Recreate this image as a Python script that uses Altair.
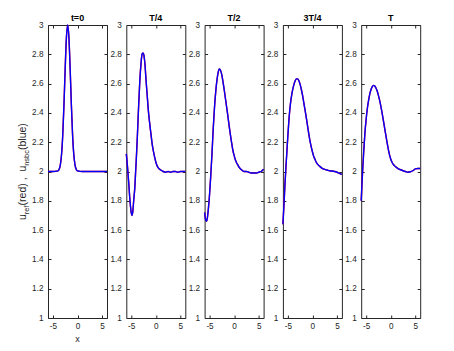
import altair as alt
import pandas as pd

# ---- data ----
titles = ["t=0", "T/4", "T/2", "3T/4", "T"]

x_t0 = [-6, -5, -4.5, -4, -3.75, -3.5, -3.25, -3, -2.75, -2.5, -2.25, -2, -1.75, -1.5,
        -1.25, -1, -0.75, -0.5, -0.25, 0, 0.5, 1, 2, 3, 4, 5, 6]
u_t0 = [2.0, 2.0, 2.001, 2.004, 2.014, 2.044, 2.114, 2.249, 2.458, 2.707, 2.917, 3.0, 2.917,
        2.707, 2.458, 2.249, 2.114, 2.044, 2.014, 2.004, 2.001, 2.0, 2.0, 2.0, 2.0, 2.0, 2.0]

x_t1 = [-6, -5.75, -5.5, -5.25, -5.0, -4.85, -4.7, -4.5, -4.25, -4.1, -4.0, -3.75, -3.5, -3.25,
        -3.0, -2.8, -2.6, -2.4, -2.2, -2.0, -1.75, -1.5, -1.25, -1.0, -0.75, -0.5, -0.25, 0,
        0.25, 0.5, 1.0, 1.5, 2.0, 2.5, 3.0, 3.5, 4.0, 4.5, 5.0, 5.5, 6.0]
u_t1 = [2.12, 2.03, 1.92, 1.80, 1.72, 1.70, 1.72, 1.80, 1.90, 2.0, 2.06, 2.24, 2.44, 2.62,
        2.74, 2.80, 2.81, 2.79, 2.73, 2.63, 2.52, 2.41, 2.33, 2.26, 2.19, 2.14, 2.10, 2.065,
        2.04, 2.025, 2.01, 2.0, 1.995, 2.0, 1.995, 2.0, 2.0, 1.995, 2.0, 2.0, 2.0]

x_t2 = [-6, -5.85, -5.65, -5.45, -5.25, -5.0, -4.75, -4.5, -4.25, -4.0, -3.75, -3.5, -3.25,
        -3.0, -2.75, -2.5, -2.25, -2.0, -1.75, -1.5, -1.25, -1.0, -0.75, -0.5, -0.25, 0,
        0.25, 0.5, 0.75, 1.0, 1.5, 2.0, 2.5, 3.0, 3.5, 4.0, 4.5, 5.0, 5.5, 6.0]
u_t2 = [1.72, 1.68, 1.66, 1.68, 1.74, 1.84, 1.97, 2.12, 2.29, 2.43, 2.54, 2.62, 2.675,
        2.70, 2.69, 2.66, 2.61, 2.555, 2.495, 2.435, 2.375, 2.31, 2.25, 2.195, 2.145, 2.11,
        2.08, 2.06, 2.045, 2.03, 2.012, 2.0, 2.0, 1.995, 1.99, 1.99, 1.99, 1.995, 2.0, 2.015]

x_t3 = [-6, -5.8, -5.6, -5.4, -5.2, -5.0, -4.8, -4.6, -4.4, -4.2, -4.0, -3.75, -3.5, -3.25,
        -3.0, -2.75, -2.5, -2.25, -2.0, -1.75, -1.5, -1.25, -1.0, -0.75, -0.5, -0.25, 0,
        0.25, 0.5, 0.75, 1.0, 1.5, 2.0, 2.5, 3.0, 3.5, 4.0, 4.5, 5.0, 5.5, 6.0]
u_t3 = [1.64, 1.76, 1.90, 2.02, 2.13, 2.24, 2.34, 2.42, 2.48, 2.525, 2.56, 2.595, 2.62, 2.632,
        2.632, 2.62, 2.595, 2.56, 2.52, 2.47, 2.42, 2.37, 2.315, 2.26, 2.21, 2.17, 2.135,
        2.105, 2.085, 2.065, 2.052, 2.035, 2.022, 2.015, 2.01, 2.005, 2.003, 2.0, 1.995, 1.987, 1.98]

x_t4 = [-6, -5.85, -5.7, -5.5, -5.25, -5.0, -4.75, -4.5, -4.25, -4.0, -3.75, -3.5, -3.25,
        -3.0, -2.75, -2.5, -2.25, -2.0, -1.75, -1.5, -1.25, -1.0, -0.75, -0.5, -0.25, 0,
        0.25, 0.5, 0.75, 1.0, 1.5, 2.0, 2.5, 3.0, 3.5, 4.0, 4.5, 5.0, 5.5, 6.0]
u_t4 = [1.80, 1.91, 2.01, 2.13, 2.26, 2.355, 2.43, 2.485, 2.53, 2.56, 2.58, 2.588, 2.583,
        2.57, 2.55, 2.52, 2.485, 2.445, 2.40, 2.35, 2.30, 2.25, 2.20, 2.155, 2.115, 2.085,
        2.065, 2.05, 2.04, 2.032, 2.02, 2.012, 2.005, 2.0, 1.995, 1.998, 2.005, 2.018, 2.02, 2.02]

xs = [x_t0, x_t1, x_t2, x_t3, x_t4]
u_ref = [u_t0, u_t1, u_t2, u_t3, u_t4]
u_nsbc = [u_t0, u_t1, u_t2, u_t3, u_t4]   # coincides with the reference in the picture

y_ticks = [1, 1.2, 1.4, 1.6, 1.8, 2, 2.2, 2.4, 2.6, 2.8, 3]
x_ticks = [-5, 0, 5]

# ---- style ----
W, H = 59, 293
TICK = 3
AXC = "#262626"
FONT = "Liberation Sans"
LBL = 8.2
MAIN = 10.5
SUB = 7.5

one = pd.DataFrame({"a": [0]})


def txt_layer(text, x, y, size, weight="normal", angle=0, align="center",
              baseline="middle", color=AXC):
    kw = dict(align=align, baseline=baseline, font=FONT, fontSize=size,
              fontWeight=weight, color=color)
    if angle:
        kw["angle"] = angle
    return alt.Chart(one).mark_text(**kw).encode(
        text=alt.value(text), x=alt.value(x), y=alt.value(y))


def panel(i):
    df = pd.DataFrame({"x": xs[i], "ref": u_ref[i], "nsbc": u_nsbc[i]})
    xaxis = alt.Axis(values=x_ticks, labelExpr="'' + datum.value", title=None,
                     labelPadding=4.5)
    yaxis = alt.Axis(values=y_ticks, title=None, labelOverlap=False,
                     labelExpr="'' + datum.value", labelPadding=5)
    xsc = alt.Scale(domain=[-6, 6], nice=False, zero=False)
    ysc = alt.Scale(domain=[1, 3], nice=False, zero=False)
    base = alt.Chart(df)
    red = base.mark_line(color="#ff0000", strokeWidth=1.4, interpolate="monotone").encode(
        x=alt.X("x:Q", scale=xsc, axis=xaxis),
        y=alt.Y("ref:Q", scale=ysc, axis=yaxis))
    blue = base.mark_line(color="#0000ff", strokeWidth=1.4, interpolate="monotone").encode(
        x=alt.X("x:Q", scale=xsc, axis=xaxis),
        y=alt.Y("nsbc:Q", scale=ysc, axis=yaxis))
    layers = [red, blue, txt_layer(titles[i], W / 2, -7.5, 9, weight="bold", color="black")]
    if i == 0:
        # y label: u_ref(red) ,  u_nsbc(blue)  with subscripts
        segs = [("u", MAIN, 195.0, -22.0),
                ("ref", SUB, 189.2, -19.5),
                ("(red) ,", MAIN, 180.4, -22.0),
                ("u", MAIN, 146.6, -22.0),
                ("nsbc", SUB, 140.8, -19.5),
                ("(blue)", MAIN, 125.0, -22.0)]
        for t, fs, yy, xx in segs:
            layers.append(txt_layer(t, xx, yy, fs, angle=270, align="left",
                                    baseline="alphabetic"))
        layers.append(txt_layer("x", W / 2, 314, 9))
        # invisible anchor fixing the top-left corner of the picture
        layers.append(alt.Chart(one).mark_rule(opacity=0, strokeWidth=0).encode(
            x=alt.value(-46.7), x2=alt.value(-40), y=alt.value(-24), y2=alt.value(-24)))
    return alt.layer(*layers).properties(width=W, height=H)


chart = alt.hconcat(*[panel(i) for i in range(5)], spacing=19.3, bounds="flush").properties(
    padding=0
).configure_view(
    stroke=AXC, strokeWidth=1
).configure_axis(
    domain=False, ticks=False, tickSize=0, grid=True, gridColor=AXC, gridOpacity=1,
    gridWidth=1, labelFont=FONT, labelFontSize=LBL, labelColor=AXC, labelOverlap=False
).configure_axisY(
    gridDash=[TICK, W - 2 * TICK, TICK, 600]
).configure_axisX(
    gridDash=[TICK, H - 2 * TICK, TICK, 800]
)

chart.save("out.html", embed_options={"renderer": "svg", "actions": False})
